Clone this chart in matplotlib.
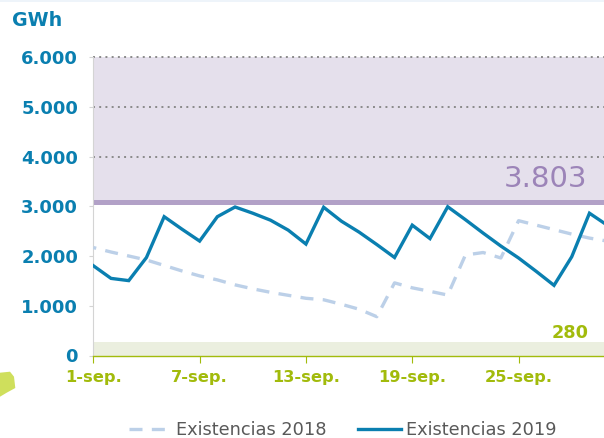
import matplotlib
matplotlib.use("Agg")
import matplotlib.pyplot as plt
from matplotlib.lines import Line2D
from matplotlib.patches import Polygon, Rectangle

# ---------------------------------------------------------
# Data (GWh)
# ---------------------------------------------------------
days = list(range(1, 31))
stock_2018 = [2170, 2080, 2000, 1920, 1810, 1700, 1600, 1520, 1420, 1340,
              1270, 1210, 1150, 1120, 1030, 930, 780, 1460, 1360, 1290,
              1215, 2020, 2070, 1960, 2710, 2620, 2530, 2440, 2360, 2300]
stock_2019 = [1805, 1550, 1505, 1970, 2790, 2540, 2300, 2790, 2985, 2860,
              2720, 2520, 2240, 2980, 2700, 2480, 2230, 1970, 2620, 2350,
              2990, 2730, 2460, 2200, 1960, 1690, 1410, 1985, 2860, 2620]
y_ticks = [0, 1000, 2000, 3000, 4000, 5000, 6000]
y_tick_labels = ["0", "1.000", "2.000", "3.000", "4.000", "5.000", "6.000"]
x_ticks = [1, 7, 13, 19, 25]
x_tick_labels = ["1-sep.", "7-sep.", "13-sep.", "19-sep.", "25-sep."]
upper_limit = 3095
lower_limit = 280
upper_label = "3.803"
lower_label = "280"

BLUE = "#0a7fb0"
LIGHT_BLUE = "#bcd0e8"
LIME = "#a2bb0c"
PURPLE = "#b2a1c7"
W, H = 604, 438

fig = plt.figure(figsize=(W / 100, H / 100), dpi=100)
# axes box in pixels: x 93.3 to 604, y 57 to 355.5 from the top
ax = fig.add_axes([93.3 / W, (H - 355.5) / H, (W - 93.3) / W, 298.5 / H])
ax.set_xlim(1, 1 + (W - 93.3) / 17.72)
ax.set_ylim(0, 6000)

ax.axhspan(upper_limit, 6000, color="#e5e0ec", lw=0, zorder=0)
ax.axhspan(0, lower_limit, color="#ebefdf", lw=0, zorder=0)
ax.axhline(upper_limit, color=PURPLE, lw=3.6, zorder=1)
for val in [4000, 5000, 6000]:
    ax.axhline(val, color="#8a8a8a", lw=1.4, ls=(0, (1, 2.2)), zorder=1, clip_on=False)

ax.plot(days, stock_2018, color=LIGHT_BLUE, lw=2.4, ls=(3, (3.9, 2.8)), zorder=3)
line_19, = ax.plot(days, stock_2019, color=BLUE, lw=2.4, solid_joinstyle="miter",
                   label="Existencias 2019", zorder=4)
# legend key starts on a full dash, unlike the plotted line
key_18 = Line2D([], [], color=LIGHT_BLUE, lw=2.4, ls=(0, (3.9, 2.8)), label="Existencias 2018")

for side in ["top", "right"]:
    ax.spines[side].set_visible(False)
ax.spines["left"].set_color("#d4d4d4")
ax.spines["bottom"].set_color(LIME)
ax.spines["bottom"].set_linewidth(1.0)

ax.set_yticks(y_ticks)
ax.set_yticklabels(y_tick_labels, fontsize=13, fontweight="bold", color=BLUE)
ax.tick_params(axis="y", length=3, color="#d4d4d4", pad=8)
ax.set_xticks(x_ticks)
ax.set_xticklabels(x_tick_labels, fontsize=11.7, fontweight="bold", color=LIME)
ax.tick_params(axis="x", length=5, color=LIME, pad=5.5)

ax.text(28.9, 3270, upper_label, color="#9c84b8", fontsize=21, ha="right", va="bottom")
ax.text(28.97, 270, lower_label, color=LIME, fontsize=12.7, fontweight="bold", ha="right", va="bottom")
fig.text(12 / W, 1 - 20 / H, "GWh", color=BLUE, fontsize=13.7, fontweight="bold", va="center")

fig.legend(handles=[key_18, line_19], loc="center", bbox_to_anchor=(342.5 / W, 1 - 430 / H),
           ncol=2, frameon=False, fontsize=12.75, labelcolor="#595959", handlelength=2.4,
           columnspacing=1.8, handletextpad=0.28, borderpad=0)

# stray decoration left of the chart and the pale strip on top
blob = [(0, 372.7), (10, 371.7), (14, 376.7), (15.3, 388), (6.7, 392.7), (0, 396.7)]
fig.add_artist(Polygon([(x / W, 1 - y / H) for x, y in blob], closed=True,
                       transform=fig.transFigure, facecolor="#cfdf5c", edgecolor="none"))
fig.add_artist(Rectangle((0, 1 - 1.5 / H), 1, 1.5 / H, transform=fig.transFigure,
                         facecolor="#eef4fa", edgecolor="none"))

fig.savefig("out.png", dpi=100)
